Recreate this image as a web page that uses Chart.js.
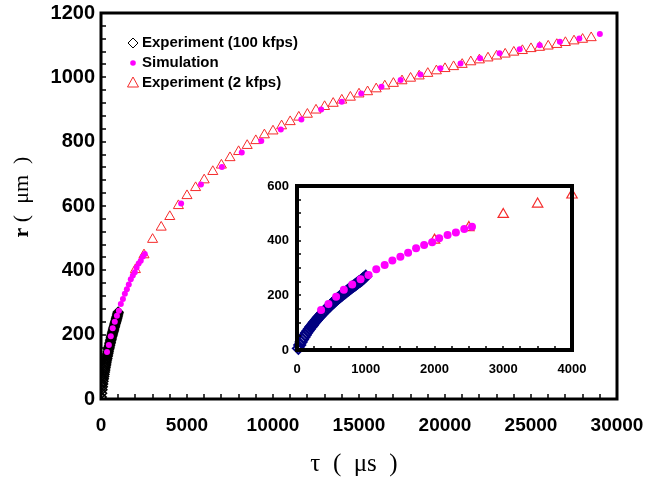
<!DOCTYPE html>
<html>
<head>
<meta charset="utf-8">
<script src="https://cdn.jsdelivr.net/npm/chart.js@4.4.1/dist/chart.umd.min.js"></script>
<style>
  html, body { margin: 0; padding: 0; background: #fff; }
  #wrap { position: relative; width: 645px; height: 485px; }
  #mainChart { position: absolute; left: 0; top: 0; }
  #insetChart { position: absolute; left: 255px; top: 175px; }
</style>
</head>
<body>
<div id="wrap">
  <canvas id="mainChart" width="645" height="485"></canvas>
  <canvas id="insetChart" width="340" height="210"></canvas>
</div>
<script>
// Experiment (100 kfps): time (us) and radius (um)
const fastTime = [20, 40, 60, 80, 100, 120, 140, 160, 180, 200, 220, 240, 260, 280, 300, 320, 340, 360, 380, 400,
    420, 440, 460, 480, 500, 520, 540, 560, 580, 600, 620, 640, 660, 680, 700, 720, 740, 760, 780, 800,
    820, 840, 860, 880, 900, 920, 940, 960, 980, 1000];
const fastR = [6, 18, 29, 38, 47, 55, 63, 70, 77, 84, 90, 97, 103, 109, 115, 121, 126, 132, 137, 142,
    147, 153, 158, 162, 167, 172, 176, 181, 185, 190, 194, 198, 202, 206, 210, 214, 218, 222, 226, 230,
    234, 237, 241, 245, 249, 252, 256, 261, 265, 270];

// Simulation
const simTime = [350, 457, 569, 681, 803, 925, 1041, 1153, 1275, 1387, 1504, 1616, 1732, 1849, 1966, 2068,
    2190, 2311, 2433, 2545, 4659, 5812, 7030, 8183, 9319, 10454, 11648, 12801, 13997, 15131, 16307,
    17420, 18573, 19732, 20903, 22038, 23174, 24345, 25504, 26680, 27810, 29004];
const simR = [146, 168, 195, 220, 240, 259, 274, 295, 311, 327, 341, 356, 372, 384, 394, 409,
    421, 430, 443, 451, 608, 667, 721, 766, 802, 838, 869, 900, 924, 950, 971,
    992, 1009, 1028, 1043, 1059, 1075, 1087, 1100, 1111, 1121, 1135];

// Experiment (2 kfps)
const slowTime = [2000, 2500, 3000, 3500, 4000, 4500, 5000, 5500, 6000, 6500, 7000, 7500, 8000, 8500, 9000,
    9500, 10000, 10500, 11000, 11500, 12000, 12500, 13000, 13500, 14000, 14500, 15000, 15500, 16000,
    16500, 17000, 17500, 18000, 18500, 19000, 19500, 20000, 20500, 21000, 21500, 22000, 22500, 23000,
    23500, 24000, 24500, 25000, 25500, 26000, 26500, 27000, 27500, 28000, 28500];
const slowR = [402, 448, 496, 534, 567, 601, 632, 657, 681, 707, 727, 750, 769, 788, 803,
    821, 833, 849, 862, 876, 885, 898, 909, 919, 929, 938, 948, 955, 964,
    973, 981, 989, 997, 1004, 1012, 1020, 1027, 1033, 1040, 1048, 1054, 1060, 1066,
    1072, 1078, 1083, 1089, 1093, 1097, 1102, 1108, 1113, 1118, 1123];

const legendLabels = ['Experiment (100 kfps)', 'Simulation', 'Experiment (2 kfps)'];

const toPoints = (xs, ys) => xs.map((x, i) => ({ x: x, y: ys[i] }));

const MAGENTA = '#ff00ff';
const RED = '#f52a2a';
const NAVY = '#000080';

// box around the plot + inward ticks
const frameTicks = (xStep, yStep, len, frameWidth) => ({
    id: 'frameTicks',
    afterDatasetsDraw(chart) {
        const { ctx, chartArea: a, scales } = chart;
        const xs = scales.x;
        const ys = scales.y;
        ctx.save();
        ctx.strokeStyle = '#000';
        ctx.lineWidth = 1.5;
        ctx.beginPath();
        for (let v = xs.min; v <= xs.max; v += xStep) {
            const px = Math.round(xs.getPixelForValue(v));
            ctx.moveTo(px, a.bottom);
            ctx.lineTo(px, a.bottom - len);
        }
        for (let v = ys.min; v <= ys.max; v += yStep) {
            const py = Math.round(ys.getPixelForValue(v));
            ctx.moveTo(a.left, py);
            ctx.lineTo(a.left + len, py);
        }
        ctx.stroke();
        ctx.lineWidth = frameWidth;
        ctx.strokeRect(a.left, a.top, a.right - a.left, a.bottom - a.top);
        ctx.restore();
    },
});

const titles = {
    id: 'titles',
    afterDraw(chart) {
        const ctx = chart.ctx;
        ctx.save();
        ctx.fillStyle = '#000';
        ctx.textBaseline = 'middle';
        // y title, rotated
        ctx.translate(22, 197);
        ctx.rotate(-Math.PI / 2);
        ctx.font = 'bold 22px "Liberation Serif"';
        const rW = ctx.measureText('r').width;
        ctx.font = '22px "Liberation Serif"';
        const restW = ctx.measureText(' (  μm  )').width;
        let x0 = -(rW + restW) / 2;
        ctx.textAlign = 'left';
        ctx.font = 'bold 22px "Liberation Serif"';
        ctx.fillText('r', x0, 0);
        ctx.font = '22px "Liberation Serif"';
        ctx.fillText(' (  μm  )', x0 + rW, 0);
        ctx.restore();

        ctx.save();
        ctx.fillStyle = '#000';
        ctx.textAlign = 'center';
        ctx.textBaseline = 'middle';
        ctx.font = '25px "Liberation Serif"';
        ctx.fillText('τ  (  μs  )', 354, 464);
        ctx.restore();
    },
};

const legendBox = {
    id: 'legendBox',
    afterDraw(chart) {
        const ctx = chart.ctx;
        const rows = [43, 63, 83];
        ctx.save();
        // diamond
        ctx.strokeStyle = '#000';
        ctx.lineWidth = 1;
        ctx.beginPath();
        ctx.moveTo(133, rows[0] - 5);
        ctx.lineTo(138, rows[0]);
        ctx.lineTo(133, rows[0] + 5);
        ctx.lineTo(128, rows[0]);
        ctx.closePath();
        ctx.stroke();
        // dot
        ctx.fillStyle = MAGENTA;
        ctx.beginPath();
        ctx.arc(133, rows[1], 2.8, 0, Math.PI * 2);
        ctx.fill();
        // triangle
        ctx.strokeStyle = RED;
        ctx.beginPath();
        ctx.moveTo(133, rows[2] - 6);
        ctx.lineTo(138.5, rows[2] + 4);
        ctx.lineTo(127.5, rows[2] + 4);
        ctx.closePath();
        ctx.stroke();

        ctx.fillStyle = '#000';
        ctx.font = 'bold 15px "Liberation Sans"';
        ctx.textBaseline = 'middle';
        ctx.textAlign = 'left';
        legendLabels.forEach((t, i) => ctx.fillText(t, 142, rows[i]));
        ctx.restore();
    },
};

const makeScale = (min, max, step, fontSize, padding, fit) => ({
    type: 'linear',
    min: min,
    max: max,
    ticks: {
        stepSize: step,
        color: '#000',
        padding: padding,
        font: { family: '"Liberation Sans"', size: fontSize, weight: 'bold' },
        callback: (v) => String(v),
    },
    grid: { display: false, drawTicks: false },
    border: { display: false },
    afterFit: (s) => {
        fit(s);
        s.paddingTop = 0;
        s.paddingBottom = 0;
        s.paddingLeft = 0;
        s.paddingRight = 0;
    },
});

const mainChart = new Chart(document.getElementById('mainChart').getContext('2d'), {
    type: 'scatter',
    data: {
        datasets: [
            {
                label: legendLabels[1],
                data: toPoints(simTime, simR),
                pointStyle: 'circle',
                pointRadius: 3,
                backgroundColor: MAGENTA,
                borderColor: MAGENTA,
                borderWidth: 0,
                order: 0,
            },
            {
                label: legendLabels[2],
                data: toPoints(slowTime, slowR),
                pointStyle: 'triangle',
                pointRadius: 5.8,
                backgroundColor: 'rgba(0,0,0,0)',
                borderColor: RED,
                borderWidth: 1,
                order: 1,
            },
            {
                label: legendLabels[0],
                data: toPoints(fastTime, fastR),
                pointStyle: 'rectRot',
                pointRadius: 4.8,
                backgroundColor: 'rgba(0,0,0,0)',
                borderColor: '#000',
                borderWidth: 1.6,
                order: 2,
            },
        ],
    },
    options: {
        responsive: false,
        animation: false,
        devicePixelRatio: 1,
        layout: { padding: { left: 0, right: 28, top: 13, bottom: 0 } },
        plugins: { legend: { display: false }, tooltip: { enabled: false } },
        scales: {
            x: makeScale(0, 30000, 5000, 19, 15, (s) => { s.height = 86; }),
            y: makeScale(0, 1200, 200, 20, 6, (s) => { s.width = 101; }),
        },
    },
    plugins: [frameTicks(1000, 40, 5, 3), titles, legendBox],
});

const insetChart = new Chart(document.getElementById('insetChart').getContext('2d'), {
    type: 'scatter',
    data: {
        datasets: [
            {
                data: toPoints(simTime, simR),
                pointStyle: 'circle',
                pointRadius: 4,
                backgroundColor: MAGENTA,
                borderWidth: 0,
                clip: 10,
                order: 0,
            },
            {
                data: toPoints(slowTime, slowR),
                pointStyle: 'triangle',
                pointRadius: 6,
                backgroundColor: 'rgba(0,0,0,0)',
                borderColor: RED,
                borderWidth: 1.2,
                clip: 10,
                order: 1,
            },
            {
                data: toPoints(fastTime, fastR),
                pointStyle: 'rectRot',
                pointRadius: 5.5,
                backgroundColor: 'rgba(0,0,0,0)',
                borderColor: NAVY,
                borderWidth: 2,
                clip: 10,
                order: 2,
            },
        ],
    },
    options: {
        responsive: false,
        animation: false,
        devicePixelRatio: 1,
        layout: { padding: { left: 0, right: 23, top: 11, bottom: 0 } },
        plugins: { legend: { display: false }, tooltip: { enabled: false } },
        scales: {
            x: makeScale(0, 4000, 1000, 13, 12, (s) => { s.height = 35; }),
            y: makeScale(0, 600, 200, 13, 8, (s) => { s.width = 42; }),
        },
    },
    plugins: [frameTicks(250, 50, 4, 4)],
});
</script>
</body>
</html>
